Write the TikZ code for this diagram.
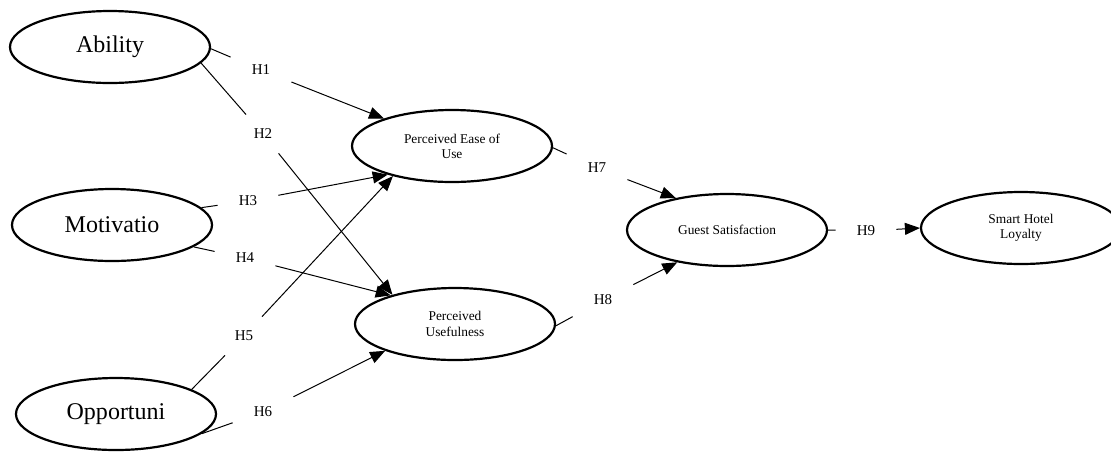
\documentclass[tikz,border=0pt]{standalone}
\usepackage{fontspec}
\setmainfont{Liberation Serif}
\usetikzlibrary{shapes.geometric, arrows.meta, positioning}

\begin{document}
\begin{tikzpicture}[x=0.5pt,y=-0.5pt,>={Triangle[length=7.5pt,width=6pt]},
    construct/.style={draw, ellipse, line width=1.1pt, inner sep=0pt,
        minimum width=100pt, minimum height=36pt, align=center,
        font=\fontsize{12}{14}\selectfont},
    smallconstruct/.style={construct, font=\fontsize{6.7}{7.6}\selectfont},
    hyp/.style={inner sep=0pt, minimum width=30pt, minimum height=19pt,
        font=\fontsize{7.5}{9}\selectfont},
    link/.style={line width=0.5pt}]
    \useasboundingbox (0,0) rectangle (1111,451);
    \node[construct] (ability) at (110,47) {Ability};
    \node[construct] (motiv) at (112,225) {Motivatio};
    \node[construct] (opport) at (116,414) {Opportuni};
    \node[smallconstruct] (peou) at (452,146) {Perceived Ease of\\Use};
    \node[smallconstruct] (pu) at (455,324) {Perceived\\Usefulness};
    \node[smallconstruct] (gs) at (727,230) {Guest Satisfaction};
    \node[smallconstruct] (shl) at (1021,228) {Smart Hotel\\Loyalty};
    \node[hyp] (h1) at (261,70) {H1};
    \node[hyp] (h2) at (263,134) {H2};
    \node[hyp] (h3) at (248,201) {H3};
    \node[hyp] (h4) at (245,258) {H4};
    \node[hyp] (h5) at (244,336) {H5};
    \node[hyp] (h6) at (263,412) {H6};
    \node[hyp] (h7) at (597,168) {H7};
    \node[hyp] (h8) at (603,300) {H8};
    \node[hyp] (h9) at (866,231) {H9};
        \path[link]
        (ability.-1) edge (h1)
        (ability.-10) edge (h2)
        (motiv.11) edge (h3)
        (motiv.-15) edge (h4)
        (opport.18) edge (h5)
        (opport.-13) edge (h6)
        (peou.-1) edge (h7)
        (pu.-1) edge (h8)
        (gs.0) edge (h9);
        \path[link,->]
        (h1) edge (peou.158)
        (h2) edge (pu.155)
        (h3) edge (peou.-156)
        (h4) edge (pu.156)
        (h5) edge (peou.-153)
        (h6) edge (pu.-159)
        (h7) edge (gs.148)
        (h8) edge (gs.-147)
        (h9) edge (shl.180);
\end{tikzpicture}
\end{document}
